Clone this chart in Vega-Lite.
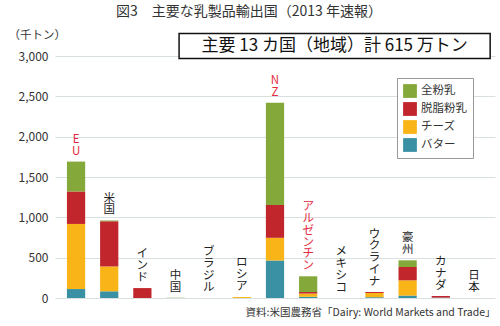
{
  "$schema": "https://vega.github.io/schema/vega-lite/v6.json",
  "width": 440,
  "height": 242,
  "autosize": {"type": "none"},
  "padding": {"left": 55, "top": 56, "right": 5, "bottom": 28},
  "background": "white",
  "config": {
    "view": {"stroke": null},
    "font": "Noto Sans CJK JP",
    "axis": {"labelFont": "Noto Sans CJK JP", "titleFont": "Noto Sans CJK JP"},
    "legend": {"labelFont": "Noto Sans CJK JP"}
  },
  "title": {
    "text": "図3　主要な乳製品輸出国（2013 年速報）",
    "fontSize": 14,
    "fontWeight": "normal",
    "color": "#333333",
    "anchor": "middle",
    "dx": -26,
    "offset": 10
  },
  "datasets": {
    "exports": [
      {"country": "EU", "product": "バター", "value": 111},
      {"country": "EU", "product": "チーズ", "value": 807},
      {"country": "EU", "product": "脱脂粉乳", "value": 403},
      {"country": "EU", "product": "全粉乳", "value": 370},
      {"country": "米国", "product": "バター", "value": 83},
      {"country": "米国", "product": "チーズ", "value": 308},
      {"country": "米国", "product": "脱脂粉乳", "value": 560},
      {"country": "米国", "product": "全粉乳", "value": 10},
      {"country": "インド", "product": "バター", "value": 0},
      {"country": "インド", "product": "チーズ", "value": 0},
      {"country": "インド", "product": "脱脂粉乳", "value": 123},
      {"country": "インド", "product": "全粉乳", "value": 0},
      {"country": "中国", "product": "バター", "value": 0},
      {"country": "中国", "product": "チーズ", "value": 0},
      {"country": "中国", "product": "脱脂粉乳", "value": 0},
      {"country": "中国", "product": "全粉乳", "value": 2},
      {"country": "ブラジル", "product": "バター", "value": 0},
      {"country": "ブラジル", "product": "チーズ", "value": 0},
      {"country": "ブラジル", "product": "脱脂粉乳", "value": 0},
      {"country": "ブラジル", "product": "全粉乳", "value": 0},
      {"country": "ロシア", "product": "バター", "value": 0},
      {"country": "ロシア", "product": "チーズ", "value": 12},
      {"country": "ロシア", "product": "脱脂粉乳", "value": 0},
      {"country": "ロシア", "product": "全粉乳", "value": 0},
      {"country": "NZ", "product": "バター", "value": 465},
      {"country": "NZ", "product": "チーズ", "value": 281},
      {"country": "NZ", "product": "脱脂粉乳", "value": 407},
      {"country": "NZ", "product": "全粉乳", "value": 1267},
      {"country": "アルゼンチン", "product": "バター", "value": 15},
      {"country": "アルゼンチン", "product": "チーズ", "value": 40},
      {"country": "アルゼンチン", "product": "脱脂粉乳", "value": 19},
      {"country": "アルゼンチン", "product": "全粉乳", "value": 195},
      {"country": "メキシコ", "product": "バター", "value": 0},
      {"country": "メキシコ", "product": "チーズ", "value": 0},
      {"country": "メキシコ", "product": "脱脂粉乳", "value": 0},
      {"country": "メキシコ", "product": "全粉乳", "value": 0},
      {"country": "ウクライナ", "product": "バター", "value": 10},
      {"country": "ウクライナ", "product": "チーズ", "value": 52},
      {"country": "ウクライナ", "product": "脱脂粉乳", "value": 12},
      {"country": "ウクライナ", "product": "全粉乳", "value": 0},
      {"country": "豪州", "product": "バター", "value": 30},
      {"country": "豪州", "product": "チーズ", "value": 189},
      {"country": "豪州", "product": "脱脂粉乳", "value": 165},
      {"country": "豪州", "product": "全粉乳", "value": 83},
      {"country": "カナダ", "product": "バター", "value": 5},
      {"country": "カナダ", "product": "チーズ", "value": 0},
      {"country": "カナダ", "product": "脱脂粉乳", "value": 20},
      {"country": "カナダ", "product": "全粉乳", "value": 0},
      {"country": "日本", "product": "バター", "value": 0},
      {"country": "日本", "product": "チーズ", "value": 0},
      {"country": "日本", "product": "脱脂粉乳", "value": 0},
      {"country": "日本", "product": "全粉乳", "value": 0}
    ],
    "note": [
      {"x0": 0.282, "x1": 0.989, "xc": 0.6355, "y0": 2970, "y1": 3280, "yc": 3125, "text": "主要 13 カ国（地域）計 615 万トン"}
    ]
  },
  "resolve": {"scale": {"x": "independent"}},
  "layer": [
    {
      "data": {"name": "exports"},
      "encoding": {
        "x": {
          "field": "country",
          "type": "nominal",
          "sort": ["EU", "米国", "インド", "中国", "ブラジル", "ロシア", "NZ", "アルゼンチン", "メキシコ", "ウクライナ", "豪州", "カナダ", "日本"],
          "scale": {"paddingInner": 0.45, "paddingOuter": 0.36},
          "axis": {
            "labels": false, "ticks": false, "domain": false, "grid": false,
            "title": "資料:米国農務省「Dairy: World Markets and Trade」",
            "titleFontSize": 10.5, "titleFontWeight": "normal", "titleColor": "#333333",
            "titleAnchor": "end", "titlePadding": 9
          }
        }
      },
      "layer": [
        {
          "transform": [
            {"calculate": "indexof(['バター','チーズ','脱脂粉乳','全粉乳'], datum.product)", "as": "stackOrder"}
          ],
          "mark": {"type": "bar"},
          "encoding": {
            "y": {
              "field": "value", "type": "quantitative", "aggregate": "sum", "stack": "zero",
              "scale": {"domain": [0, 3000], "nice": false},
              "axis": {
                "values": [0, 500, 1000, 1500, 2000, 2500, 3000],
                "format": ",d",
                "ticks": false, "domain": false,
                "labelFontSize": 12, "labelColor": "#333333", "labelPadding": 7,
                "gridColor": "#d8dfe0", "gridWidth": 1,
                "title": "（千トン）",
                "titleAngle": 0, "titleAlign": "left", "titleBaseline": "middle",
                "titleX": -47, "titleY": -21,
                "titleFontSize": 11.5, "titleFontWeight": "normal", "titleColor": "#333333"
              }
            },
            "order": {"field": "stackOrder", "type": "quantitative", "sort": "ascending"},
            "color": {
              "field": "product", "type": "nominal",
              "scale": {
                "domain": ["全粉乳", "脱脂粉乳", "チーズ", "バター"],
                "range": ["#85a83a", "#c2262d", "#f9b518", "#3a91a4"]
              },
              "legend": {
                "title": null,
                "orient": "top-right",
                "offset": 22,
                "symbolType": "square",
                "symbolSize": 190,
                "symbolStrokeWidth": 0,
                "labelFontSize": 11.5,
                "labelColor": "#333333",
                "rowPadding": 4,
                "strokeColor": "#999999",
                "padding": 6,
                "fillColor": "white"
              }
            }
          }
        },
        {
          "transform": [
            {"aggregate": [{"op": "sum", "field": "value", "as": "total"}], "groupby": ["country"]},
            {"calculate": "split(datum.country, '')", "as": "chars"},
            {"calculate": "length(datum.chars)", "as": "nlines"},
            {"flatten": ["chars"], "as": ["ch"]},
            {"window": [{"op": "row_number", "as": "idx"}], "groupby": ["country"]},
            {"calculate": "datum.total + (datum.nlines - datum.idx) * 147", "as": "labelY"}
          ],
          "mark": {"type": "text", "baseline": "bottom", "align": "center", "dy": -5, "fontSize": 11.5},
          "encoding": {
            "y": {"field": "labelY", "type": "quantitative"},
            "text": {"field": "ch", "type": "nominal"},
            "color": {
              "condition": {"test": "indexof(['EU','NZ','アルゼンチン'], datum.country) >= 0", "value": "#e4283e"},
              "value": "#222222"
            }
          }
        }
      ]
    },
    {
      "data": {"name": "note"},
      "layer": [
        {
          "mark": {"type": "rect", "fill": "white", "stroke": "#111111", "strokeWidth": 1.5},
          "encoding": {
            "x": {"field": "x0", "type": "quantitative", "scale": {"domain": [0, 1], "nice": false, "zero": false}, "axis": null},
            "x2": {"field": "x1"},
            "y": {"field": "y0", "type": "quantitative"},
            "y2": {"field": "y1"}
          }
        },
        {
          "mark": {"type": "text", "fontSize": 17, "color": "#111111", "baseline": "middle", "align": "center"},
          "encoding": {
            "x": {"field": "xc", "type": "quantitative", "axis": null},
            "y": {"field": "yc", "type": "quantitative"},
            "text": {"field": "text", "type": "nominal"}
          }
        }
      ]
    }
  ]
}
